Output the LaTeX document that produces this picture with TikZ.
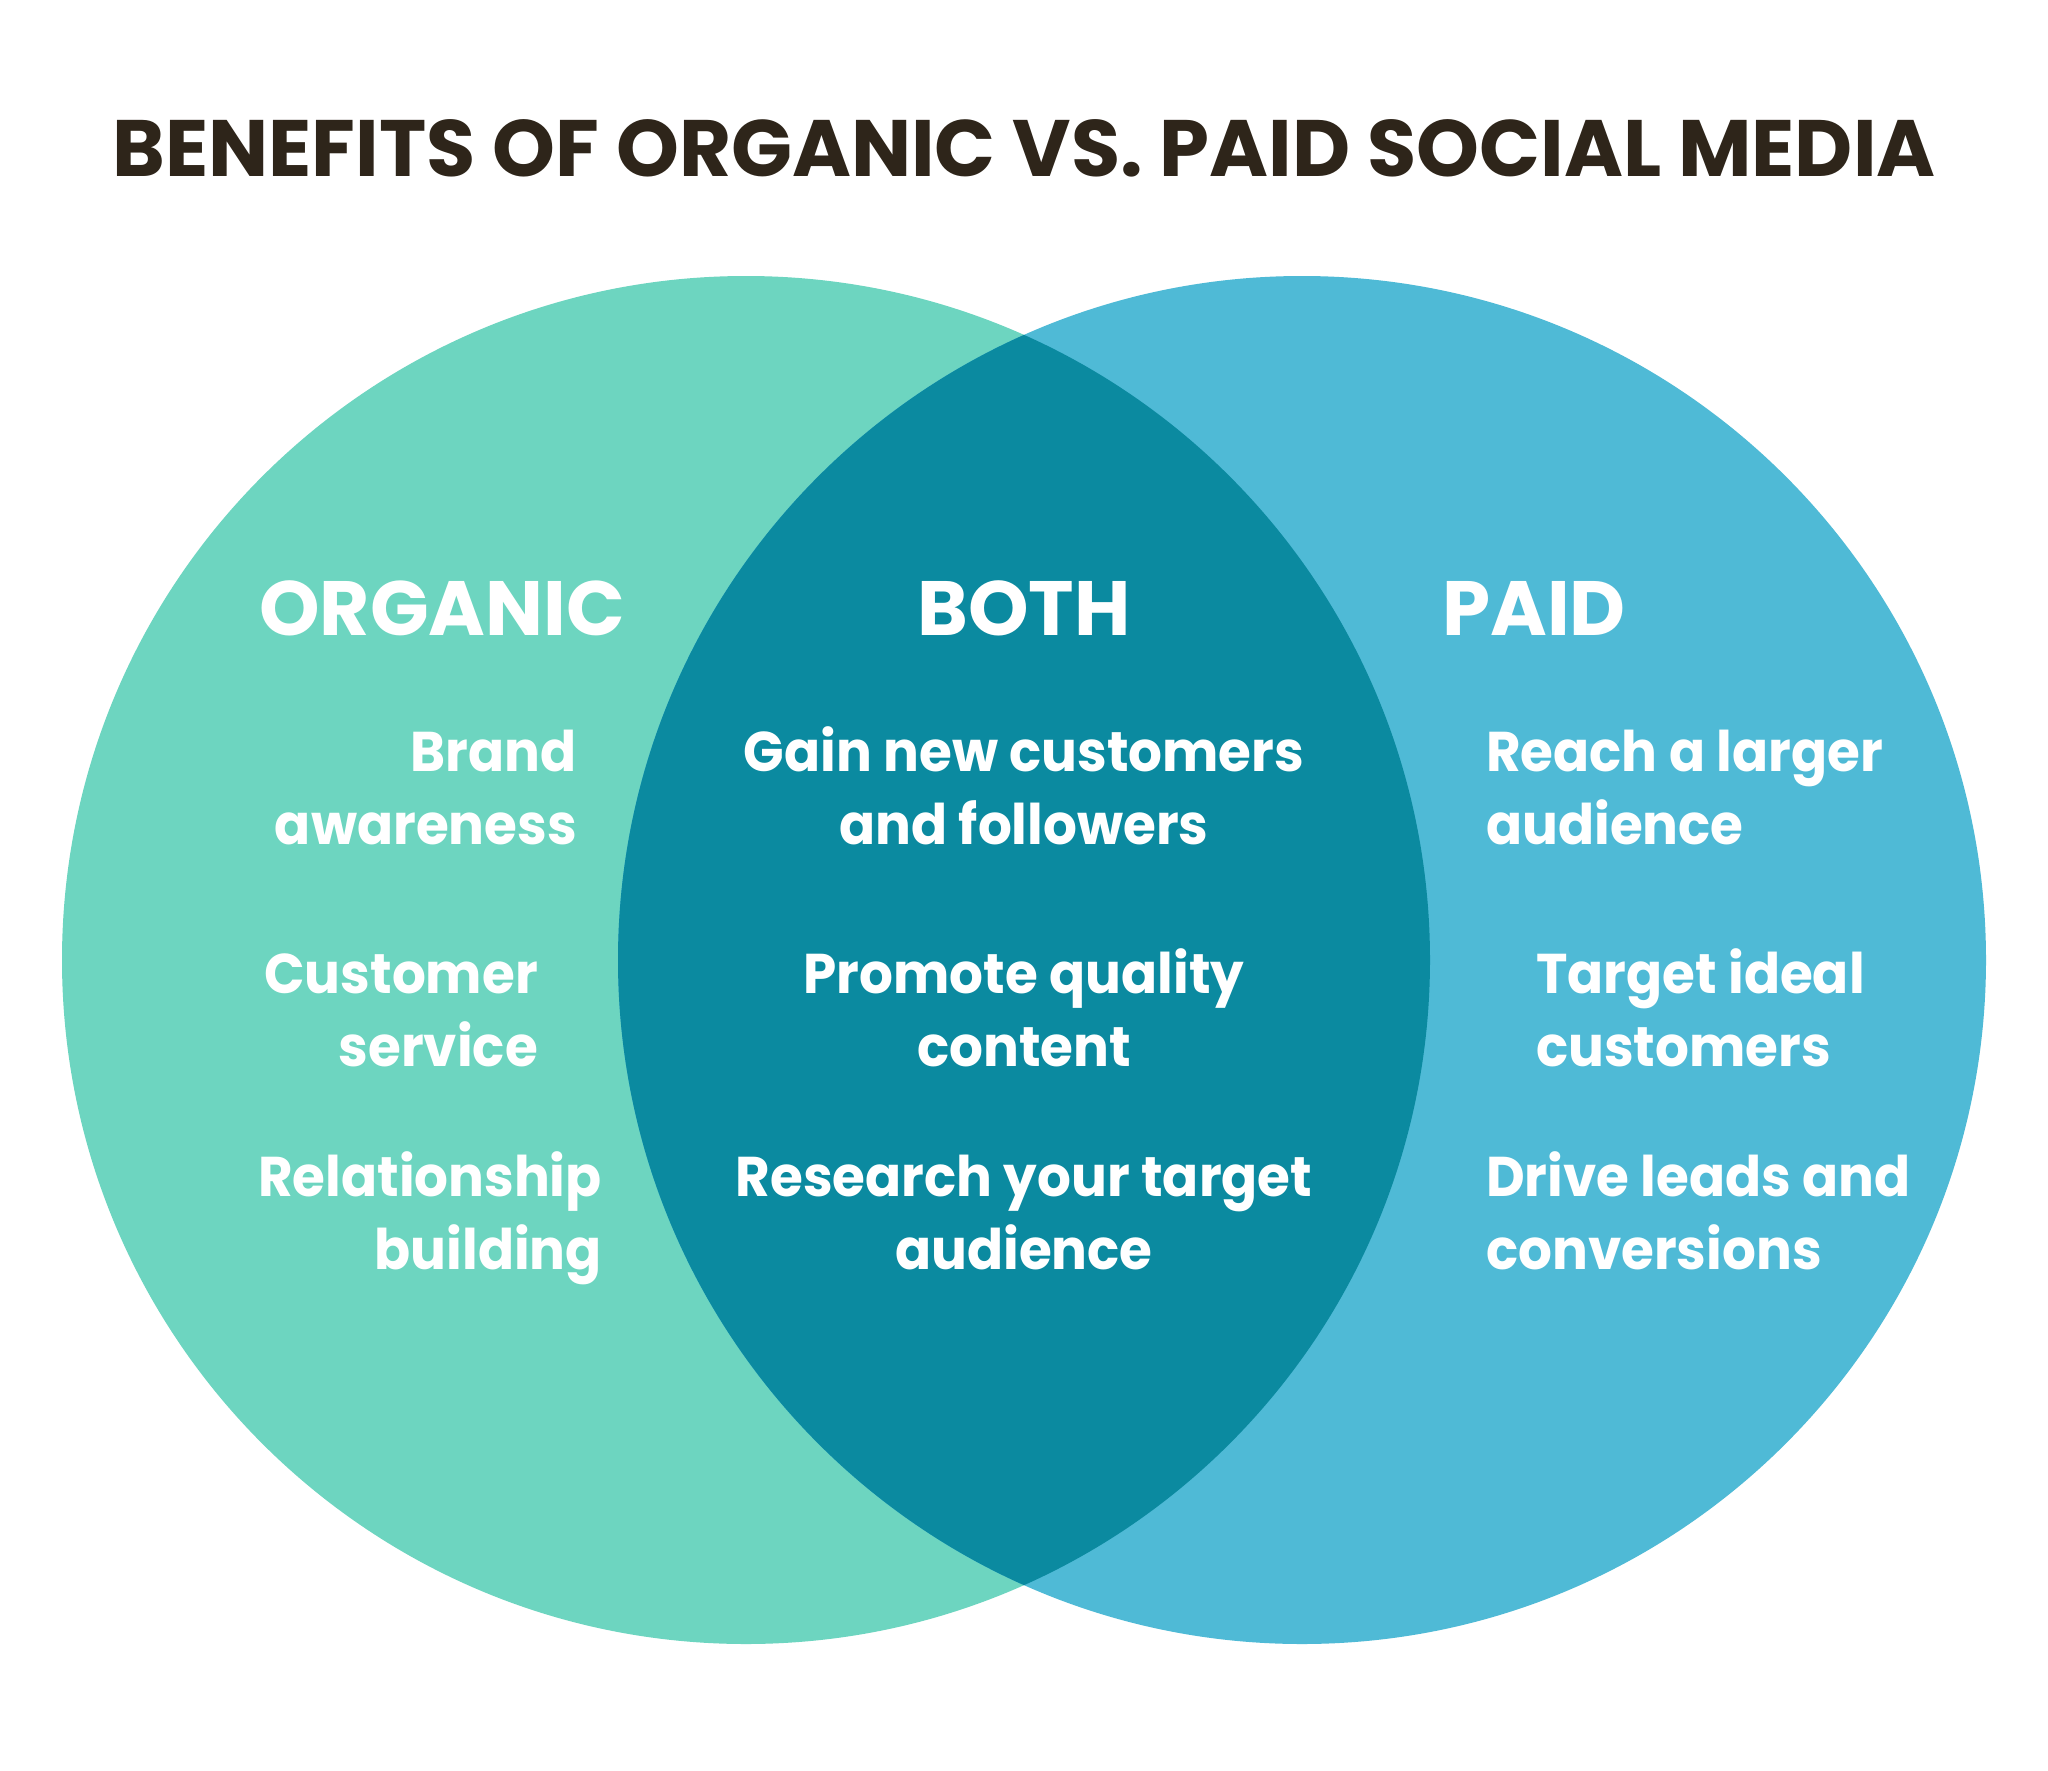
\documentclass[tikz,border=0pt]{standalone}
\usepackage{fontspec}
\setmainfont{Poppins}
\newfontfamily\itemfont{Poppins}[FakeStretch=0.95]
\usepackage{tikz}
\definecolor{titlecol}{HTML}{2E251A}
\definecolor{organiccol}{HTML}{6DD5C0}
\definecolor{paidcol}{HTML}{4FBAD6}
\definecolor{bothcol}{HTML}{0B8AA0}

\begin{document}
\begin{tikzpicture}[x=1pt,y=-1pt]
  \tikzstyle{TitleStyle}=[inner sep=0pt,text=titlecol,font=\bfseries\fontsize{80}{96}\selectfont]
  \tikzstyle{HeadStyle}=[inner sep=0pt,text=white,font=\bfseries\fontsize{77}{90}\selectfont]
  \tikzstyle{ItemStyle}=[inner sep=0pt,text=white,font=\itemfont\bfseries\fontsize{56}{73}\selectfont]
  \useasboundingbox (0,0) rectangle (2048,1770);
  \fill[white] (0,0) rectangle (2048,1770);
  % the two sets
  \fill[organiccol] (746,960) circle[radius=684pt];
  \fill[paidcol] (1302,960) circle[radius=684pt];
  \begin{scope}
    \clip (746,960) circle[radius=684pt];
    \fill[bothcol] (1302,960) circle[radius=684pt];
  \end{scope}
  \node[TitleStyle,anchor=base] (title) at (1024,176) {BENEFITS OF ORGANIC VS. PAID SOCIAL MEDIA};
  \node[HeadStyle,anchor=base] (organic) at (442,635) {ORGANIC};
  \node[HeadStyle,anchor=base] (both) at (1024,635) {BOTH};
  \node[HeadStyle,anchor=base] (paid) at (1534,635) {PAID};
  % organic (base = last line)
  \node[ItemStyle,align=right,anchor=base east] (brand) at (577,844) {Brand\\awareness};
  \node[ItemStyle,align=right,anchor=base east] (service) at (538,1066) {Customer\\service};
  \node[ItemStyle,align=right,anchor=base east] (relation) at (602,1269) {Relationship\\building};
  % both
  \node[ItemStyle,align=center,anchor=base] (gain) at (1024,844) {Gain new customers\\and followers};
  \node[ItemStyle,align=center,anchor=base] (promote) at (1024,1066) {Promote quality\\content};
  \node[ItemStyle,align=center,anchor=base] (research) at (1024,1269) {Research your target\\audience};
  % paid
  \node[ItemStyle,align=left,anchor=base west] (reach) at (1486,844) {Reach a larger\\audience};
  \node[ItemStyle,align=left,anchor=base west] (target) at (1536,1066) {Target ideal\\customers};
  \node[ItemStyle,align=left,anchor=base west] (drive) at (1486,1269) {Drive leads and\\conversions};
\end{tikzpicture}
\end{document}
